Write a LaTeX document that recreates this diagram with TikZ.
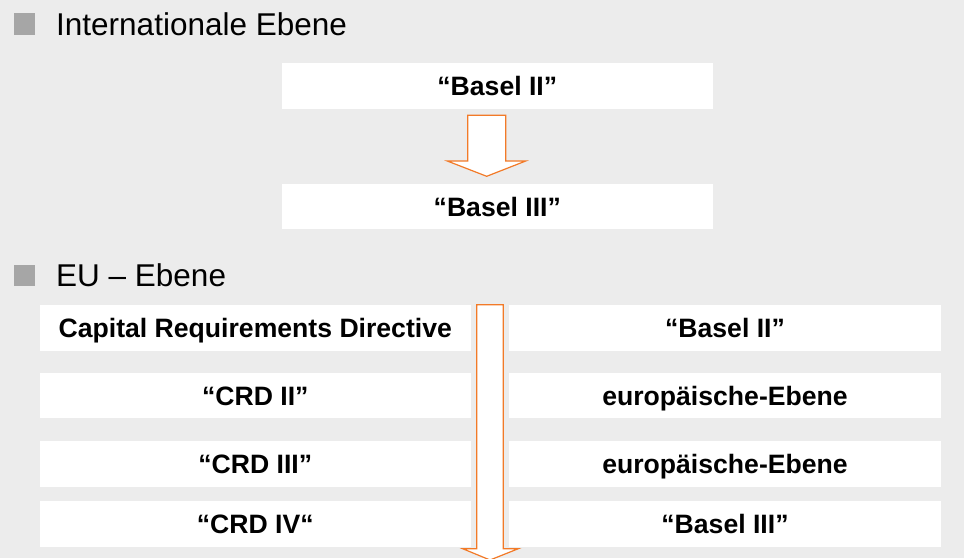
\documentclass[tikz,border=0pt]{standalone}
\usepackage{fontspec}
\setmainfont{Liberation Sans}
\definecolor{bg}{RGB}{236,236,236}
\definecolor{bul}{RGB}{166,166,166}
\definecolor{arr}{RGB}{242,122,40}
\tikzset{
  box/.style={fill=white, inner sep=0pt, minimum height=45.5pt,
    text height=19pt, text depth=0pt,
    font=\bfseries\fontsize{26.6}{28}\selectfont},
  lbox/.style={box, minimum width=430.7pt},
  rbox/.style={box, minimum width=432pt},
  head/.style={anchor=base west, inner sep=0pt, font=\fontsize{31.5}{34}\selectfont},
  bullet/.style={fill=bul},
  bigarrow/.style={draw=arr, fill=white, line width=1.2pt, line join=miter}
}
\begin{document}
\begin{tikzpicture}[x=1pt,y=-1pt]
\useasboundingbox (0,0) rectangle (964,558);
\clip (0,0) rectangle (964,558);
\fill[bg] (0,0) rectangle (964,558);

% headings
\fill[bullet] (14,12.7) rectangle (35.3,35.3);
\node[head] (h1) at (56,35) {Internationale Ebene};
\fill[bullet] (14,264.5) rectangle (35.3,286);
\node[head] (h2) at (56,286) {EU – Ebene};

% international level
\node[lbox] (b1) at (497.3,86) {“Basel II”};
\node[lbox] (b2) at (497.3,206.7) {“Basel III”};
\draw[bigarrow] (467.7,115.3) -- (505.7,115.3) -- (505.7,161) -- (525.7,161)
  -- (486.7,176.3) -- (447.3,161) -- (467.7,161) -- cycle;

% EU level
\node[lbox] (l1) at (255.3,327.8) {Capital Requirements Directive};
\node[lbox] (l2) at (255.3,395.7) {“CRD II”};
\node[lbox] (l3) at (255.3,463.8) {“CRD III”};
\node[lbox] (l4) at (255.3,523.8) {“CRD IV“};
\node[rbox] (r1) at (725,327.8) {“Basel II”};
\node[rbox] (r2) at (725,395.7) {europäische-Ebene};
\node[rbox] (r3) at (725,463.8) {europäische-Ebene};
\node[rbox] (r4) at (725,523.8) {“Basel III”};
\draw[bigarrow] (476.7,304.7) -- (503.3,304.7) -- (503.3,548.7) -- (518.3,548.7)
  -- (490,560) -- (462.7,548.7) -- (476.7,548.7) -- cycle;
\end{tikzpicture}
\end{document}
